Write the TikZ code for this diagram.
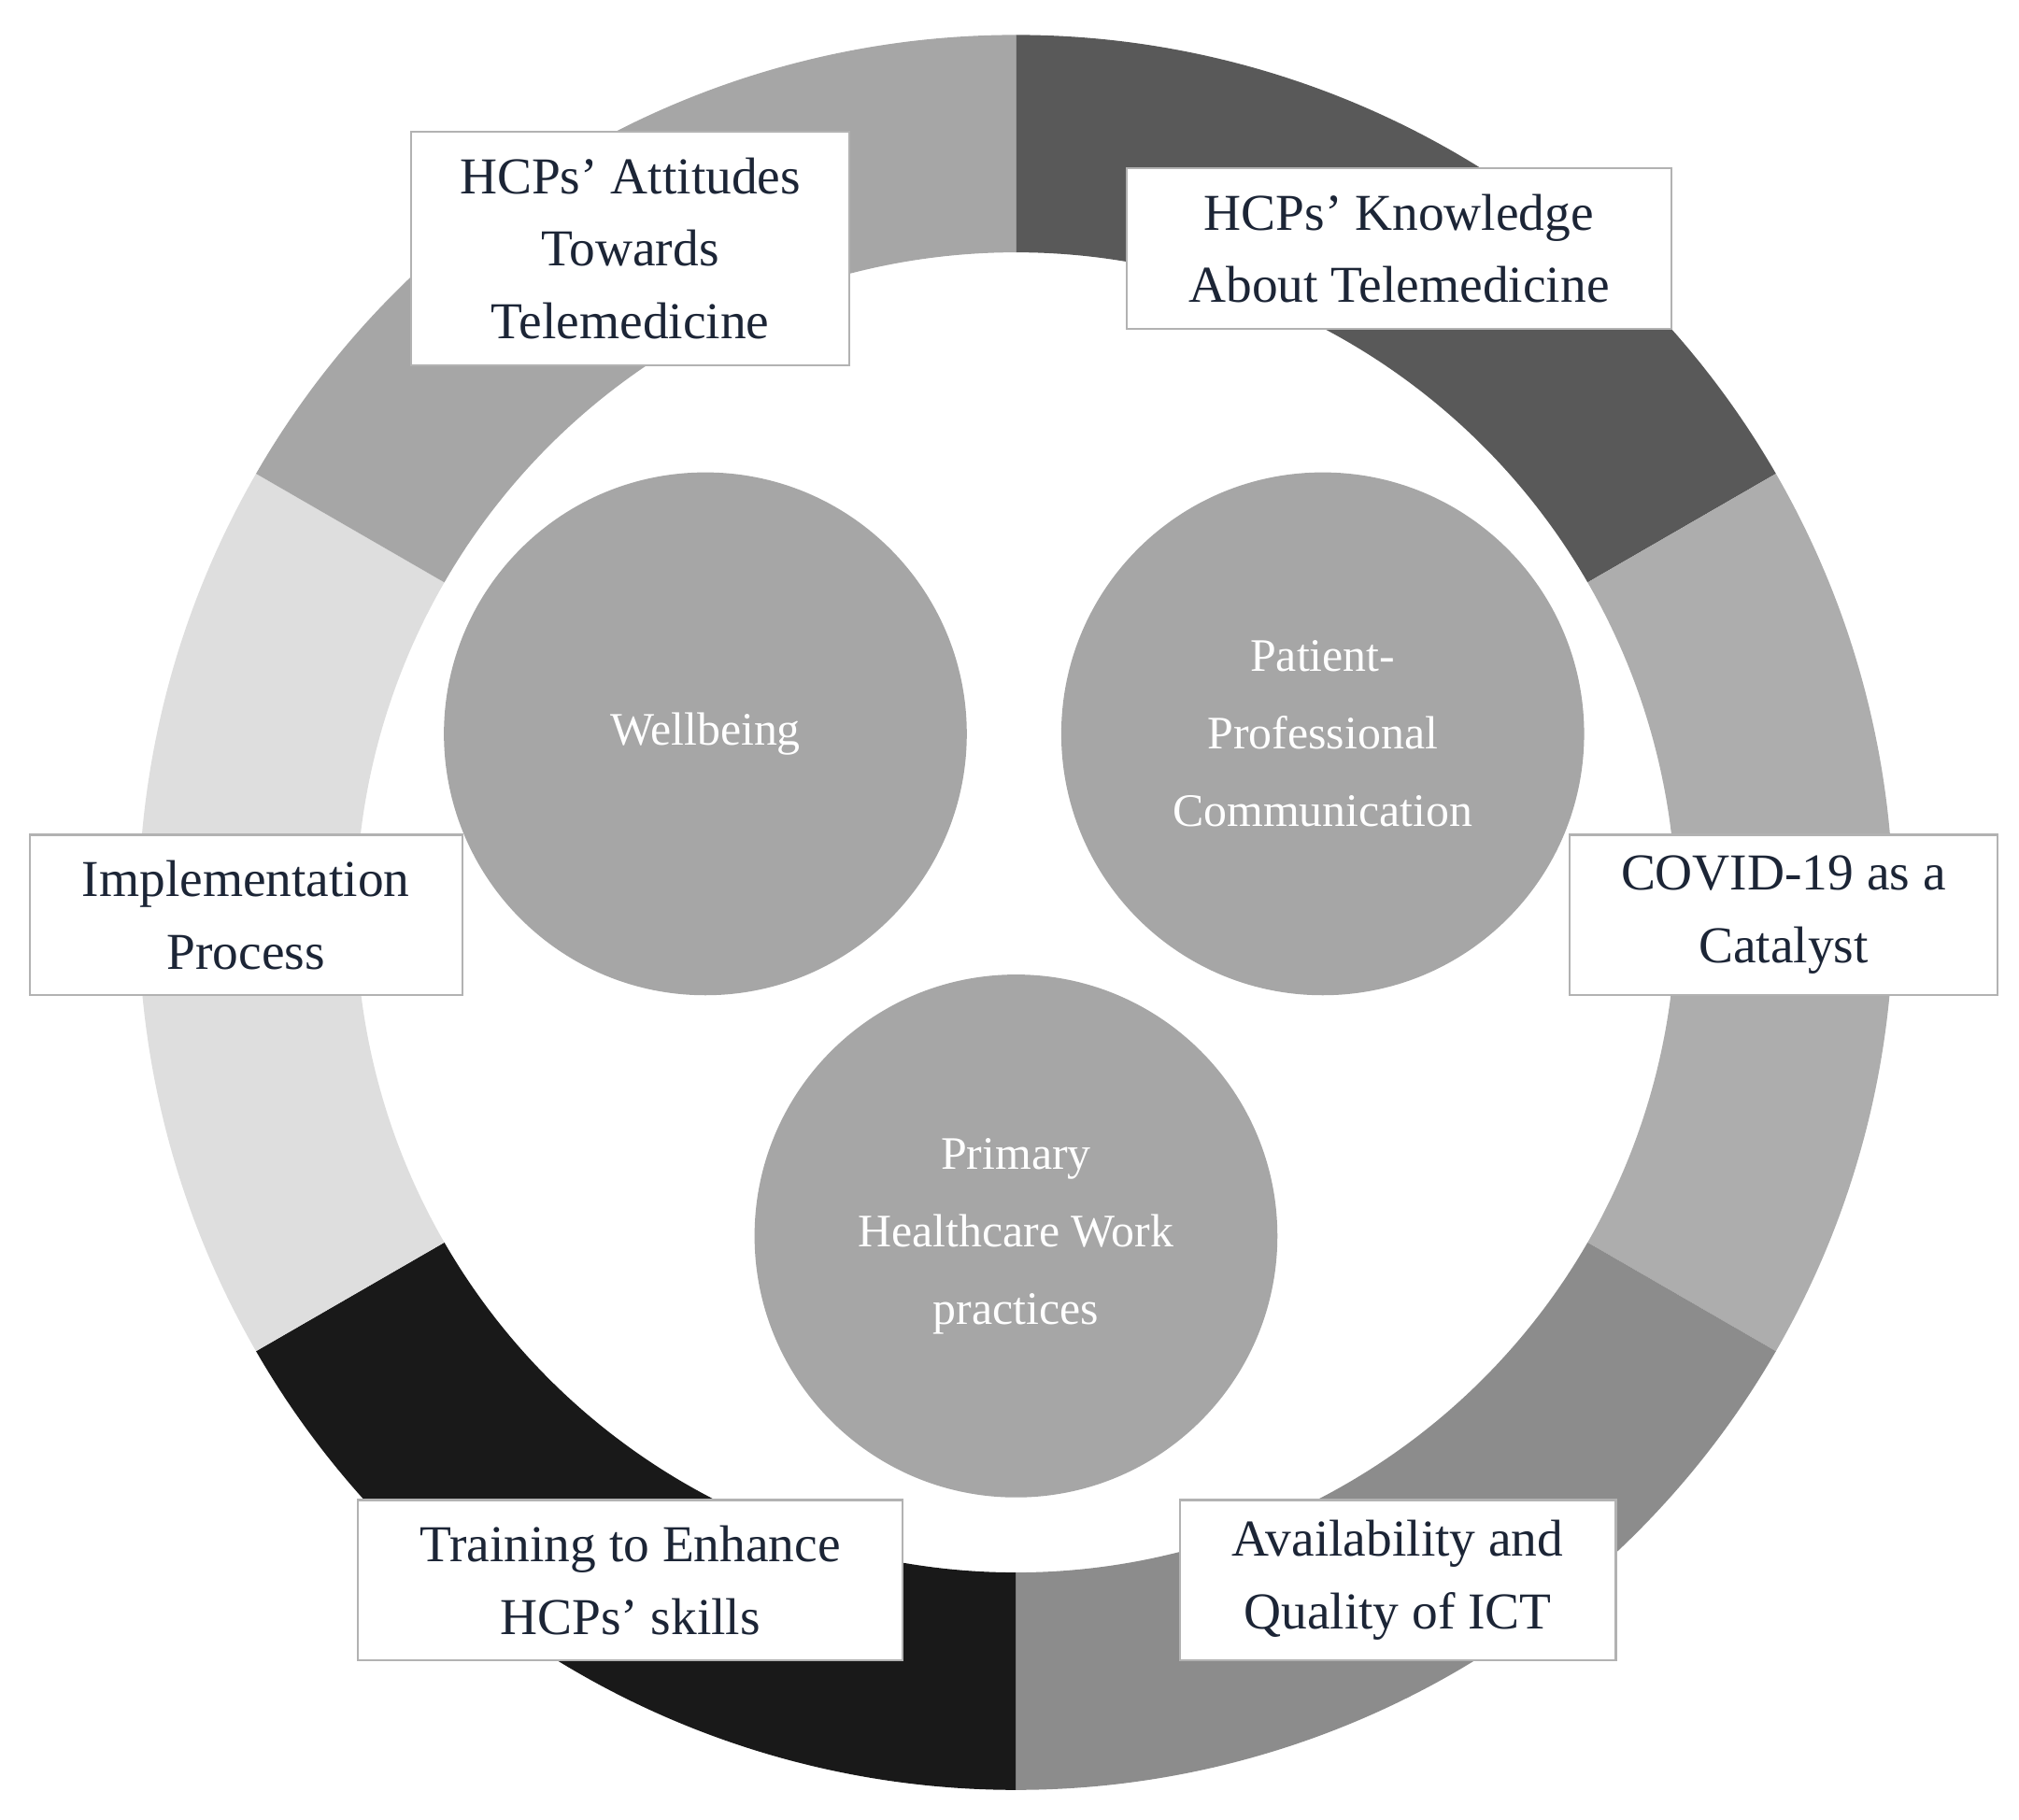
\documentclass[tikz,border=0pt]{standalone}
\usepackage{fontspec}
\setmainfont{Liberation Serif}
\usetikzlibrary{calc}
\definecolor{navy}{HTML}{1C2536}
\tikzset{
  lbl/.style={draw=black!30,line width=1.5pt,fill=white,align=center,text=navy,
    font=\fontsize{40}{56}\selectfont,inner sep=0pt,minimum height=124pt},
  theme/.style={circle,fill=black!35,minimum size=404pt,inner sep=0pt,text=white,
    align=center,font=\fontsize{36}{60}\selectfont}
}
\begin{document}
\begin{tikzpicture}[x=1pt,y=1pt]
\useasboundingbox (0,0) rectangle (1560,1406);
\coordinate (C) at (785,701);
\foreach \a/\b/\c in {90/30/black!65, 30/-30/black!32, -30/-90/black!45, -90/-150/black!90, 210/150/black!13, 150/90/black!35}{
  \fill[fill=\c] ($(C)+(\a:678)$) arc[start angle=\a,end angle=\b,radius=678]
    -- ($(C)+(\b:510)$) arc[start angle=\b,end angle=\a,radius=510] -- cycle;
}
\node[theme] (w) at (545,839) {Wellbeing};
\node[theme] (p) at (1022,839) {Patient-\\Professional\\Communication};
\node[theme] (h) at (785,451) {Primary\\Healthcare Work\\practices};
\node[lbl,minimum width=339pt,minimum height=180pt] (att) at (487,1214) {HCPs’ Attitudes\\Towards\\Telemedicine};
\node[lbl,minimum width=421pt] (kn) at (1081,1214) {HCPs’ Knowledge\\About Telemedicine};
\node[lbl,minimum width=334pt] (imp) at (190,699) {Implementation\\Process};
\node[lbl,minimum width=331pt] (cov) at (1378,699) {COVID-19 as a\\Catalyst};
\node[lbl,minimum width=421pt] (tr) at (487,185) {Training to Enhance\\HCPs’ skills};
\node[lbl,minimum width=337pt] (av) at (1080,185) {Availability and\\Quality of ICT};
\end{tikzpicture}
\end{document}
